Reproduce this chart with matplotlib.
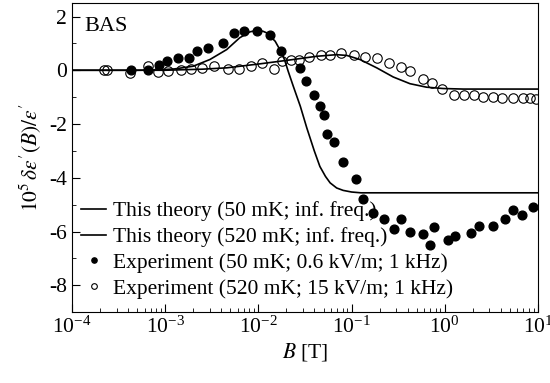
import numpy as np
import matplotlib
matplotlib.use('Agg')
from matplotlib import pyplot as plt

plt.rcParams['font.family'] = ['Liberation Serif', 'DejaVu Serif']
plt.rcParams['mathtext.fontset'] = 'stix'

# experiment, 50 mK (log10 B, value)
exp50_logB = [-3.367, -3.18, -3.063, -2.984, -2.86, -2.75, -2.66, -2.54, -2.38, -2.26,
              -2.15, -2.02, -1.875, -1.757, -1.554, -1.49, -1.40, -1.34, -1.30, -1.267,
              -1.19, -1.096, -0.953, -0.874, -0.77, -0.65, -0.545, -0.473, -0.373, -0.23,
              -0.16, -0.11, 0.03, 0.11, 0.28, 0.37, 0.52, 0.645, 0.735, 0.825, 0.95]
exp50_val = [0.0, 0.0, 0.21, 0.34, 0.46, 0.44, 0.71, 0.83, 1.02, 1.39,
             1.45, 1.45, 1.33, 0.71, 0.09, -0.41, -0.93, -1.34, -1.65, -2.37,
             -2.67, -3.41, -4.05, -4.79, -5.31, -5.52, -5.90, -5.52, -6.0, -6.09,
             -6.49, -5.83, -6.31, -6.16, -6.06, -5.78, -5.78, -5.52, -5.21, -5.37, -5.10]

# experiment, 520 mK
exp520_logB = [-3.66, -3.62, -3.378, -3.19, -3.08, -2.967, -2.83, -2.72, -2.60, -2.476,
               -2.33, -2.21, -2.08, -1.965, -1.83, -1.75, -1.65, -1.56, -1.46, -1.33,
               -1.23, -1.11, -0.97, -0.856, -0.73, -0.595, -0.473, -0.373, -0.237, -0.14,
               -0.033, 0.10, 0.206, 0.313, 0.413, 0.52, 0.617, 0.735, 0.835, 0.92, 0.98]
exp520_val = [0.0, 0.0, -0.12, 0.15, -0.06, -0.01, 0.0, 0.06, 0.09, 0.15,
              0.06, 0.06, 0.15, 0.27, 0.06, 0.36, 0.40, 0.40, 0.48, 0.56,
              0.58, 0.65, 0.56, 0.50, 0.46, 0.27, 0.11, -0.04, -0.31, -0.47,
              -0.69, -0.93, -0.93, -0.93, -0.99, -0.99, -1.04, -1.04, -1.04, -1.04, -1.07]

# theory curves
th50_logB = [-4.0, -3.3, -3.1, -2.9, -2.7, -2.52, -2.34, -2.20, -2.09, -2.02,
             -1.95, -1.91, -1.82, -1.77, -1.72, -1.68, -1.625, -1.55, -1.48, -1.40,
             -1.34, -1.28, -1.23, -1.16, -1.09, -1.0, -0.9, 1.0]
th50_val = [0.0, 0.0, 0.01, 0.05, 0.15, 0.40, 0.77, 1.21, 1.43, 1.48,
            1.45, 1.39, 1.08, 0.77, 0.40, -0.04, -0.60, -1.34, -2.15, -3.0,
            -3.58, -3.95, -4.19, -4.38, -4.47, -4.53, -4.56, -4.56]

th520_logB = [-4.0, -3.0, -2.6, -2.34, -1.98, -1.625, -1.375, -1.16, -1.05, -0.91,
              -0.73, -0.553, -0.373, -0.195, -0.016, 0.2, 1.0]
th520_val = [0.0, 0.0, 0.04, 0.09, 0.24, 0.40, 0.52, 0.58, 0.55, 0.40,
             0.09, -0.25, -0.50, -0.63, -0.68, -0.70, -0.70]

fig = plt.figure(figsize=(5.5, 3.83), dpi=100)
ax = fig.add_axes([0.131, 0.185, 0.847, 0.807])

ax.plot(10**np.array(th50_logB), th50_val, color='k', lw=1.2,
        label='This theory (50 mK; inf. freq.)')
ax.plot(10**np.array(th520_logB), th520_val, color='k', lw=1.2,
        label='This theory (520 mK; inf. freq.)')
ax.plot(10**np.array(exp50_logB), exp50_val, 'o', color='k', ms=6.3,
        label='Experiment (50 mK; 0.6 kV/m; 1 kHz)')
ax.plot(10**np.array(exp520_logB), exp520_val, 'o', mfc='none', mec='k', mew=0.8, ms=6.8,
        label='Experiment (520 mK; 15 kV/m; 1 kHz)')

ax.set_xscale('log')
ax.set_xlim(1e-4, 10)
ax.set_ylim(-9, 2.5)
ax.set_yticks([2, 0, -2, -4, -6, -8])
ax.set_yticks([1, -1, -3, -5, -7], minor=True)
ax.tick_params(which='both', direction='in', labelsize=15.5, top=False, right=False)
ax.tick_params(which='major', length=6)
ax.tick_params(which='minor', length=3)
ax.set_yticklabels(['2', '0', '-2', '-4', '-6', '-8'])

ax.set_xlabel('$B$ [T]', fontsize=15.5, labelpad=2)
ax.set_ylabel("$10^5\\,\\delta\\varepsilon'(B)/\\varepsilon'$", fontsize=15.5)
ax.text(0.026, 0.955, 'BAS', transform=ax.transAxes, fontsize=16, va='top')

ax.legend(loc='lower left', bbox_to_anchor=(0.0, 0.015), frameon=False, fontsize=15.5,
          handlelength=1.2, handletextpad=0.3, borderaxespad=0.1, borderpad=0.3,
          labelspacing=0.27, markerscale=0.6)

fig.savefig('out.png', dpi=100)
